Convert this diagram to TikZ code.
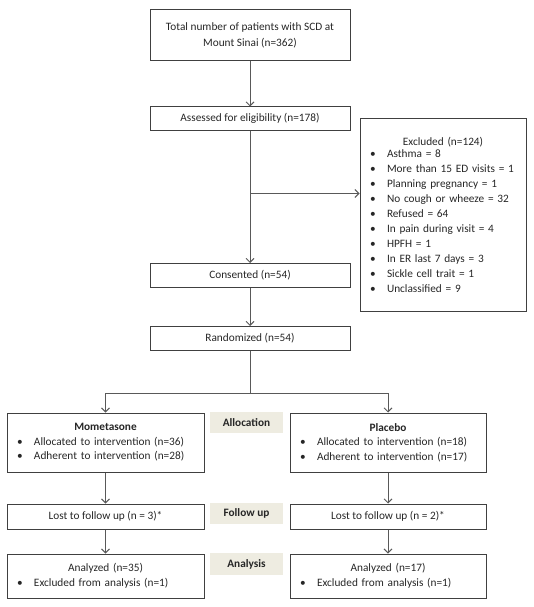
\documentclass[tikz,border=0pt]{standalone}
\usepackage{fontspec}
\setmainfont{Carlito}
\usetikzlibrary{positioning}
\usetikzlibrary{arrows.meta}

\definecolor{boxline}{RGB}{64,64,64}
\definecolor{arrowline}{RGB}{89,89,89}
\definecolor{labelfill}{RGB}{238,236,225}
\newcommand{\bul}{\makebox[17pt][l]{\textbullet}}

\begin{document}
\begin{tikzpicture}[x=1pt, y=-1pt,
    >={Straight Barb[length=4pt,width=8pt]},
    every node/.style={inner sep=0pt, font=\fontsize{11.3}{15}\selectfont, text=black!85},
    box/.style={draw=boxline, line width=1pt, minimum width=200pt, align=center},
    listbox/.style={draw=boxline, line width=1pt, inner xsep=10pt, align=left},
    stage/.style={fill=labelfill, minimum width=73pt, minimum height=21pt, font=\fontsize{11.3}{13}\selectfont\bfseries},
    flow/.style={draw=arrowline, line width=0.9pt}]
    \useasboundingbox (0,0) rectangle (534,607);

    % Nodos
    \node[box, minimum height=51pt, font=\fontsize{11.3}{16.5}\selectfont] (total) at (250,35.5) {Total number of patients with SCD at\\Mount Sinai (n=362)};
    \node[box, minimum height=23pt] (assess) at (250,118.5) {Assessed for eligibility (n=178)};
    \node[listbox, minimum width=166pt, minimum height=192pt, text width=146pt] (excl) at (443,215)
        {\centerline{Excluded (n=124)}\\[-3pt]
         \bul Asthma = 8\\
         \bul More than 15 ED visits = 1\\
         \bul Planning pregnancy = 1\\
         \bul No cough or wheeze = 32\\
         \bul Refused = 64\\
         \bul In pain during visit = 4\\
         \bul HPFH = 1\\
         \bul In ER last 7 days = 3\\
         \bul Sickle cell trait = 1\\
         \bul Unclassified = 9};
    \node[box, minimum height=24pt] (consent) at (250,275.5) {Consented (n=54)};
    \node[box, minimum height=24pt] (rand) at (250,338.5) {Randomized (n=54)};

    \node[listbox, minimum width=197pt, minimum height=59pt, text width=177pt, font=\fontsize{11.3}{14.5}\selectfont] (mom) at (105.5,442.5)
        {\centerline{\bfseries Mometasone}\\
         \bul Allocated to intervention (n=36)\\
         \bul Adherent to intervention (n=28)};
    \node[listbox, minimum width=196pt, minimum height=59pt, text width=176pt, font=\fontsize{11.3}{14.5}\selectfont] (plac) at (388,442.5)
        {\centerline{\bfseries Placebo}\\
         \bul Allocated to intervention (n=18)\\
         \bul Adherent to intervention (n=17)};
    \node[box, minimum width=197pt, minimum height=25pt] (lostm) at (105.5,516.5) {Lost to follow up (n = 3)*};
    \node[box, minimum width=196pt, minimum height=25pt] (lostp) at (388,516.5) {Lost to follow up (n = 2)*};
    \node[listbox, minimum width=197pt, minimum height=44pt, text width=177pt] (anam) at (105.5,576)
        {\centerline{Analyzed (n=35)}\\
         \bul Excluded from analysis (n=1)};
    \node[listbox, minimum width=196pt, minimum height=44pt, text width=176pt] (anap) at (388,576)
        {\centerline{Analyzed (n=17)}\\
         \bul Excluded from analysis (n=1)};

    \node[stage] (alloc) at (246.5,422.5) {Allocation};
    \node[stage] (follow) at (246.5,513.5) {Follow up};
    \node[stage, minimum height=22pt] (analysis) at (246.5,564) {Analysis};

    \coordinate (exit) at (250,193.5);
    \coordinate (split) at (250,393);

    % Aristas
    \draw[flow, ->] (total) -- (assess);
    \draw[flow, ->] (assess) -- (consent);
    \draw[flow, ->] (exit) -- (exit -| excl.west);
    \draw[flow, ->] (consent) -- (rand);
    \draw[flow] (rand) -- (split);
    \draw[flow, ->] (split) -| (mom.north);
    \draw[flow, ->] (split) -| (plac.north);
    \draw[flow, ->] (mom) -- (lostm);
    \draw[flow, ->] (plac) -- (lostp);
    \draw[flow, ->] (lostm) -- (anam);
    \draw[flow, ->] (lostp) -- (anap);
\end{tikzpicture}
\end{document}
